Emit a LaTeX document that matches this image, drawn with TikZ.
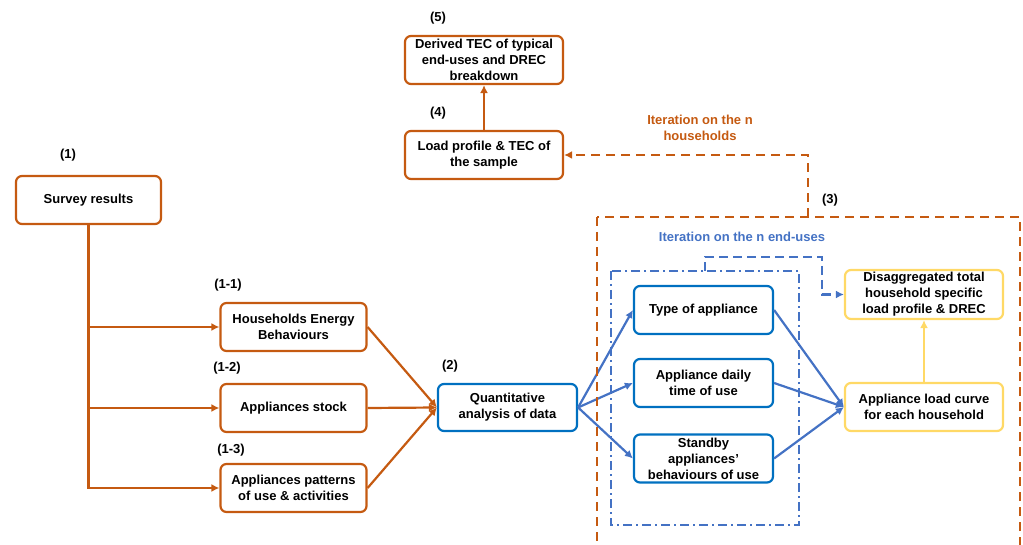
\documentclass[tikz,border=0pt]{standalone}
\usepackage{fontspec}
\setmainfont{Liberation Sans}
\usetikzlibrary{arrows.meta}
\definecolor{rust}{RGB}{197,90,17}
\definecolor{azure}{RGB}{0,112,192}
\definecolor{steel}{RGB}{68,114,196}
\definecolor{gold}{RGB}{255,217,102}
\begin{document}
\begin{tikzpicture}[x=1pt, y=-1pt, line width=2.2pt,
    font=\fontsize{13}{16}\selectfont\bfseries,
    box/.style={draw, rounded corners=6pt, align=center, minimum height=48pt, inner sep=2pt},
    arr/.style={-{Latex[length=8pt,width=8pt]}}]
  \useasboundingbox (0,0) rectangle (1023,545);
  % sample level
  \node[box, rust, text=black, minimum width=158pt] (box5) at (484,60) {Derived TEC of typical\\end-uses and DREC\\breakdown};
  \node[box, rust, text=black, minimum width=158pt] (box4) at (484,155) {Load profile \& TEC of\\the sample};
  \draw[rust, arr] (box4.north) -- (box5.south);
  % survey
  \node[box, rust, text=black, minimum width=145pt] (box1) at (88.5,200) {Survey results};
  \foreach \n/\y/\t in {box11/327/{Households Energy\\Behaviours},
                        box12/408/{Appliances stock},
                        box13/488/{Appliances patterns\\of use \& activities}} {
    \node[box, rust, text=black, minimum width=146pt] (\n) at (293.5,\y) {\t};
    \draw[rust, arr] (box1.south) |- (\n.west);
  }
  % analysis
  \node[box, azure, text=black, minimum width=139pt, minimum height=47pt] (box2) at (507.5,407.5) {Quantitative\\analysis of data};
  \foreach \n in {box11,box12,box13} {
    \draw[rust, arr] (\n.east) -- (box2.west);
  }
  % end-uses
  \foreach \n/\y/\t in {type/310/{Type of appliance},
                        daily/383/{Appliance daily\\time of use},
                        standby/458.5/{Standby\\appliances'\\behaviours of use}} {
    \node[box, azure, text=black, minimum width=139pt] (\n) at (703.5,\y) {\t};
    \draw[steel, arr] (box2.east) -- (\n.west);
  }
  % household
  \node[box, gold, text=black, minimum width=158pt, minimum height=49pt] (disagg) at (924,294.5) {Disaggregated total\\household specific\\load profile \& DREC};
  \node[box, gold, text=black, minimum width=158pt] (loadc) at (924,407) {Appliance load curve\\for each household};
  \draw[gold, arr] (loadc.north) -- (disagg.south);
  \foreach \n in {type,daily,standby} {
    \draw[steel, arr] (\n.east) -- (loadc.west);
  }
  % iterations
  \draw[rust, dash pattern=on 9pt off 6pt] (597,217) rectangle (1020,560);
  \draw[steel, dash pattern=on 9pt off 4pt on 2pt off 4pt] (611,271) rectangle (799,525);
  \coordinate (c3) at (808,217);
  \coordinate (cdd) at (705,271);
  \coordinate (cbend) at (822,257);
  \draw[rust, dash pattern=on 9pt off 6pt, arr] (c3) |- (box4.east);
  \draw[steel, dash pattern=on 9pt off 5pt, arr] (cdd) |- (cbend) |- (disagg.west);
  \node[rust, align=center] (ithh) at (700,128) {Iteration on the n\\households};
  \node[steel] (iteu) at (742,237) {Iteration on the n end-uses};
  % step numbers
  \foreach \n/\x/\y/\t in {lab5/438/18/(5), lab4/438/113/(4), lab1/68/155/(1),
                           lab11/228/285/(1-1), lab12/227/368/(1-2), lab13/231/450/(1-3),
                           lab2/450/366/(2), lab3/830/200/(3)} {
    \node (\n) at (\x,\y) {\t};
  }
\end{tikzpicture}
\end{document}
